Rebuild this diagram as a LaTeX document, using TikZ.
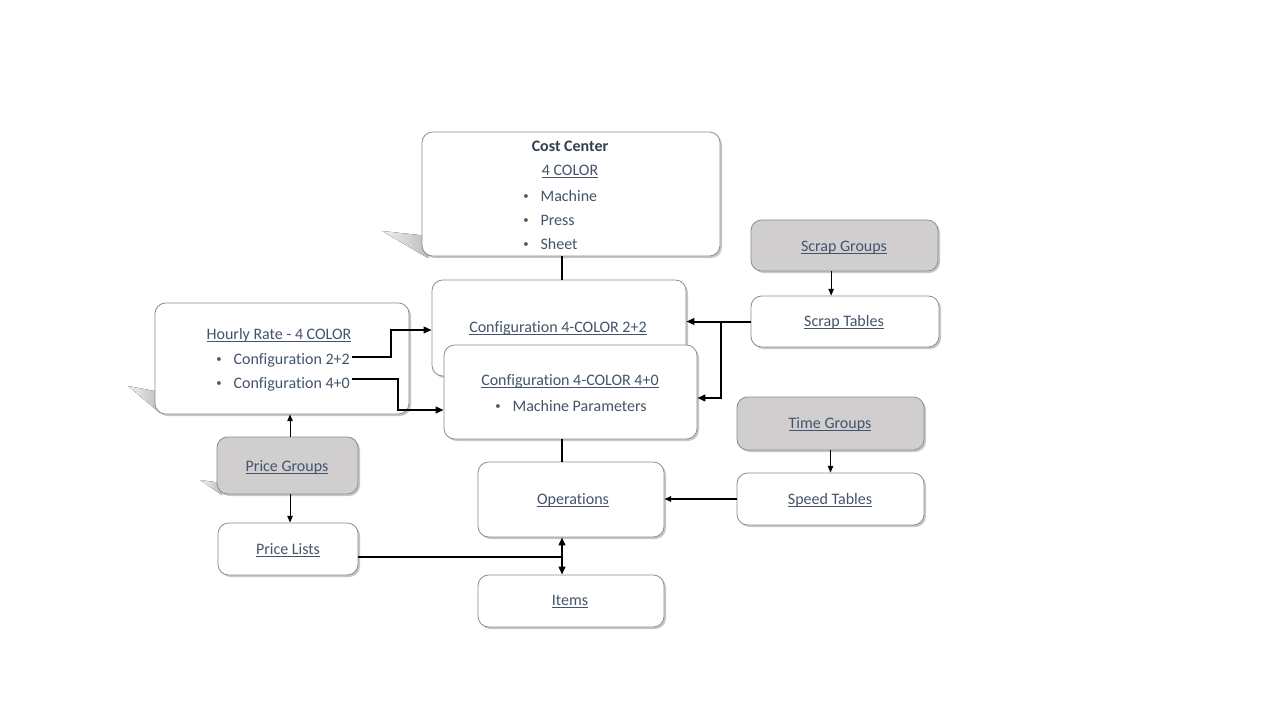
\documentclass[tikz,border=0pt]{standalone}
\usepackage{fontspec}
\setmainfont{Carlito}[Ligatures=NoCommon]
\usetikzlibrary{shadows,arrows.meta}
\definecolor{txt}{HTML}{44546A}
\definecolor{bord}{HTML}{8C8C8C}
\definecolor{grp}{HTML}{D0CECE}
\newlength\ulw
\newcommand\lnk[1]{\settowidth\ulw{#1}\rlap{\color{txt}\rule[-1.8pt]{\ulw}{0.6pt}}#1}
\newcommand\bul{\raisebox{1.2pt}{\fontsize{8}{8}\selectfont\textbullet}\hspace{9pt}}
\begin{document}
\begin{tikzpicture}[x=0.75pt,y=-0.75pt,
  font=\fontsize{12}{14}\selectfont, text=txt,
  box/.style={draw=bord, line width=0.6pt, fill=white, rounded corners=8pt,
    drop shadow={shadow xshift=1.5pt,shadow yshift=-1.5pt,opacity=0.4,fill=black!55}},
  grpbox/.style={box, fill=grp},
  lbl/.style={inner sep=0pt, anchor=mid},
  thk/.style={line width=1.5pt, -{Triangle[length=6pt,width=5pt]}},
  thkline/.style={line width=1.5pt},
  thn/.style={line width=0.8pt, -{Triangle[length=5pt,width=4pt]}},
  wedge/.style={draw=none}
  ]
\useasboundingbox (0,0) rectangle (1280,720);
% perspective shadows
\fill[wedge, left color=black!6, right color=black!26] (382,231) -- (428,236) -- (428,258) -- cycle;
\fill[wedge, left color=black!6, right color=black!26] (128,386) -- (160,392) -- (160,413) -- cycle;
\fill[wedge, left color=black!6, right color=black!26] (200,480) -- (222,483) -- (222,495) -- cycle;

% boxes
\node[box, minimum width=223.5pt, minimum height=93pt] (cc) at (571,194) {};
\node[box, minimum width=190.5pt, minimum height=72pt] (c22) at (559,328) {};
\node[box, minimum width=189.75pt, minimum height=70.5pt] (c40) at (570.5,392) {};
\node[box, minimum width=139.5pt, minimum height=56.25pt] (ops) at (571,499.5) {};
\node[box, minimum width=139.5pt, minimum height=39pt] (items) at (571,601) {};
\node[box, minimum width=105pt, minimum height=39pt] (pl) at (288,549) {};
\node[grpbox, minimum width=105.75pt, minimum height=42.75pt] (pg) at (287.5,465.5) {};
\node[box, minimum width=190.5pt, minimum height=83.25pt] (hr) at (282,358.5) {};
\node[grpbox, minimum width=140.25pt, minimum height=38.25pt] (sg) at (844.5,245.5) {};
\node[box, minimum width=141pt, minimum height=38.25pt] (st) at (845,321.5) {};
\node[grpbox, minimum width=140.25pt, minimum height=39.75pt] (tg) at (830.5,423.5) {};
\node[box, minimum width=140.25pt, minimum height=39pt] (sp) at (830.5,499) {};

% texts
\node[lbl, text=txt!75!black] (cct) at (570,148) {\bfseries Cost Center};
\node[lbl] (cc4) at (570,172) {\lnk{4 COLOR}};
\node[lbl, anchor=west] (ccm) at (523,196) {\bul Machine};
\node[lbl, anchor=west] (ccp) at (523,220) {\bul Press};
\node[lbl, anchor=west] (ccs) at (523,244) {\bul Sheet};

\node[lbl] (c22t) at (558,329) {\lnk{Configuration 4-COLOR 2+2}};
\node[lbl] (c40t) at (570,382) {\lnk{Configuration 4-COLOR 4+0}};
\node[lbl, anchor=west] (c40m) at (495,406) {\bul Machine Parameters};

\node[lbl] (hrt) at (279,336) {\lnk{Hourly Rate - 4 COLOR}};
\node[lbl, anchor=west] (h22) at (216,360) {\bul Configuration 2+2};
\node[lbl, anchor=west] (h40) at (216,384) {\bul Configuration 4+0};

\node[lbl] (opst) at (573,501) {\lnk{Operations}};
\node[lbl] (itemst) at (570,602) {\lnk{Items}};
\node[lbl] (plt) at (288,551) {\lnk{Price Lists}};
\node[lbl] (pgt) at (287,468) {\lnk{Price Groups}};
\node[lbl] (sgt) at (844,248) {\lnk{Scrap Groups}};
\node[lbl] (stt) at (844,323) {\lnk{Scrap Tables}};
\node[lbl] (tgt) at (830,425) {\lnk{Time Groups}};
\node[lbl] (spt) at (830,501) {\lnk{Speed Tables}};

% connectors
\draw[thkline] ([xshift=-6.75pt]cc.south) -- ([xshift=-6.75pt]cc.south |- c22.north);
\draw[thkline] ([xshift=-6.4pt]c40.south) -- ([xshift=-6.4pt]c40.south |- ops.north);
\draw[thk] ([xshift=1.5pt,yshift=2.5pt]h22.east) -- ([yshift=2.5pt]h22.east -| 391,0) |- ([yshift=-1.5pt]c22.west);
\draw[thk] ([xshift=1.5pt,yshift=3.5pt]h40.east) -- ([yshift=3.5pt]h40.east -| 398,0) |- ([yshift=-13.5pt]c40.west);
\draw[thk] (st.west) -- (c22.east |- st.west);
\coordinate (br) at (721,322);
\draw[thk] (br) |- ([yshift=-4.5pt]c40.east);
\draw[thn] ([xshift=1.9pt]pg.north) -- ([xshift=1.9pt]pg.north |- hr.south);
\draw[thn] ([xshift=1.9pt]pg.south) -- ([xshift=1.9pt]pg.south |- pl.north);
\draw[thn] ([xshift=-10pt]sg.south) -- ([xshift=-10pt]sg.south |- st.north);
\draw[thn] (tg.south) -- (sp.north);
\draw[line width=1.1pt, -{Triangle[length=5pt,width=4pt]}] (sp.west) -- (ops.east |- sp.west);
\draw[thkline] ([yshift=-6pt]pl.east) -- ([yshift=-6pt]pl.east -| 562,0);
\draw[line width=1.5pt, {Triangle[length=6pt,width=5pt]}-{Triangle[length=6pt,width=5pt]}] ([xshift=-6.75pt]ops.south) -- ([xshift=-6.75pt]ops.south |- items.north);
\end{tikzpicture}
\end{document}
